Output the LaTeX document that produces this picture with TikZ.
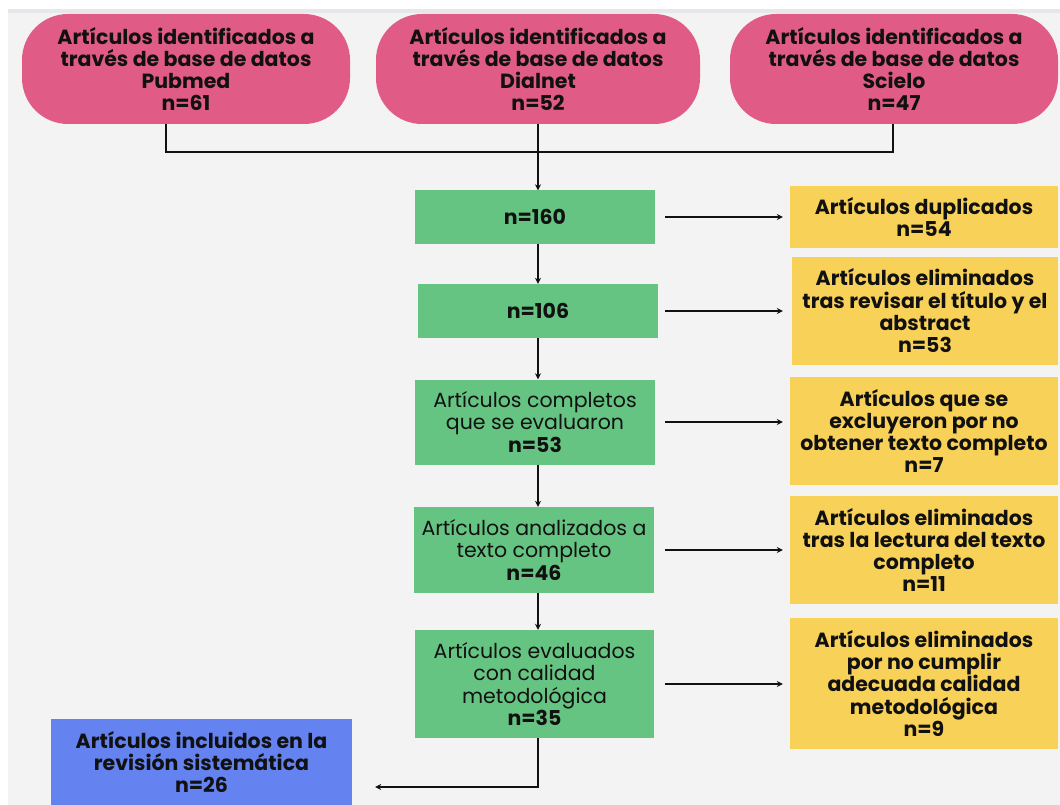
\documentclass[tikz,border=0pt]{standalone}
\usepackage{fontspec}
\setmainfont{Poppins}
\usetikzlibrary{arrows.meta}
\definecolor{bggray}{HTML}{F3F3F3}
\definecolor{topline}{HTML}{E6E7EA}
\definecolor{pinkc}{HTML}{E05C87}
\definecolor{greenc}{HTML}{66C483}
\definecolor{yellowc}{HTML}{F8D159}
\definecolor{bluec}{HTML}{6482F0}
\definecolor{inkc}{HTML}{111111}
\begin{document}
\begin{tikzpicture}[x=1pt,y=-1pt,
  basebox/.style={inner sep=0pt, align=center, text=inkc},
  pinkbox/.style={basebox, fill=pinkc, rounded corners=46pt, font=\bfseries\fontsize{20.5}{22.3}\selectfont},
  greenbox/.style={basebox, fill=greenc, font=\fontsize{20.5}{22.3}\selectfont},
  yellowbox/.style={basebox, fill=yellowc, font=\bfseries\fontsize{20.5}{22.3}\selectfont},
  bluebox/.style={basebox, fill=bluec, font=\bfseries\fontsize{20.5}{22.3}\selectfont},
  conn/.style={draw=inkc, line width=1.8pt},
  arr/.style={conn, -{Stealth[length=6pt,width=6pt]}}
]
\useasboundingbox (0,0) rectangle (1060,805);
\fill[white] (0,0) rectangle (1060,805);
\fill[bggray] (8,10) rectangle (1060,805);
\fill[topline] (8,9) rectangle (1060,13);

% top sources
\node[pinkbox, minimum width=328pt, minimum height=110pt] (P1) at (186,69)
  {Artículos identificados a\\través de base de datos\\Pubmed\\n=61};
\node[pinkbox, minimum width=324pt, minimum height=110pt] (P2) at (538,69)
  {Artículos identificados a\\través de base de datos\\Dialnet\\n=52};
\node[pinkbox, minimum width=328pt, minimum height=110pt] (P3) at (894,69)
  {Artículos identificados a\\través de base de datos\\Scielo\\n=47};

% main column
\node[greenbox, minimum width=240pt, minimum height=53pt] (G1) at (535,217)
  {\bfseries n=160};
\node[greenbox, minimum width=240pt, minimum height=54pt] (G2) at (538,311)
  {\bfseries n=106};
\node[greenbox, minimum width=240pt, minimum height=85pt] (G3) at (535,422)
  {Artículos completos\\que se evaluaron\\\textbf{n=53}};
\node[greenbox, minimum width=240pt, minimum height=86pt] (G4) at (534,550)
  {Artículos analizados a\\texto completo\\\textbf{n=46}};
\node[greenbox, minimum width=239pt, minimum height=108pt] (G5) at (534.5,684)
  {Artículos evaluados\\con calidad\\metodológica\\\textbf{n=35}};

% exclusions
\node[yellowbox, minimum width=268pt, minimum height=62pt] (Y1) at (924,217)
  {Artículos duplicados\\n=54};
\node[yellowbox, minimum width=266pt, minimum height=108pt] (Y2) at (925,311)
  {Artículos eliminados\\tras revisar el título y el\\abstract\\n=53};
\node[yellowbox, minimum width=268pt, minimum height=108pt] (Y3) at (924,431)
  {Artículos que se\\excluyeron por no\\obtener texto completo\\n=7};
\node[yellowbox, minimum width=268pt, minimum height=108pt] (Y4) at (924,550)
  {Artículos eliminados\\tras la lectura del texto\\completo\\n=11};
\node[yellowbox, minimum width=268pt, minimum height=131pt] (Y5) at (924,683.5)
  {Artículos eliminados\\por no cumplir\\adecuada calidad\\metodológica\\n=9};

% included
\node[bluebox, minimum width=301pt, minimum height=86pt] (B) at (201.5,762)
  {Artículos incluidos en la\\revisión sistemática\\n=26};

% connectors
\coordinate (J) at (538,152);
\draw[conn] ([xshift=-20pt]P1.south) |- (J) -| ([xshift=-1pt]P3.south);
\draw[arr] (P2.south) -- (P2.south |- G1.north);
\draw[arr] ([xshift=3pt]G1.south) -- ([xshift=3pt]G1.south |- G2.north);
\draw[arr] (G2.south) -- (G2.south |- G3.north);
\draw[arr] ([xshift=3pt]G3.south) -- ([xshift=3pt]G3.south |- G4.north);
\draw[arr] ([xshift=4pt]G4.south) -- ([xshift=4pt]G4.south |- G5.north);
\draw[arr] ([xshift=3.5pt]G5.south) |- ([xshift=23pt,yshift=-25pt]B.east);

\draw[arr] ([xshift=10pt]G1.east) -- ([xshift=-7pt]Y1.west |- G1.east);
\draw[arr] ([xshift=7pt]G2.east) -- ([xshift=-9pt]Y2.west |- G2.east);
\draw[arr] ([xshift=10pt]G3.east) -- ([xshift=-7pt]Y3.west |- G3.east);
\draw[arr] ([xshift=11pt]G4.east) -- ([xshift=-7pt]Y4.west |- G4.east);
\draw[arr] ([xshift=10.5pt]G5.east) -- ([xshift=-7pt]Y5.west |- G5.east);
\end{tikzpicture}
\end{document}
